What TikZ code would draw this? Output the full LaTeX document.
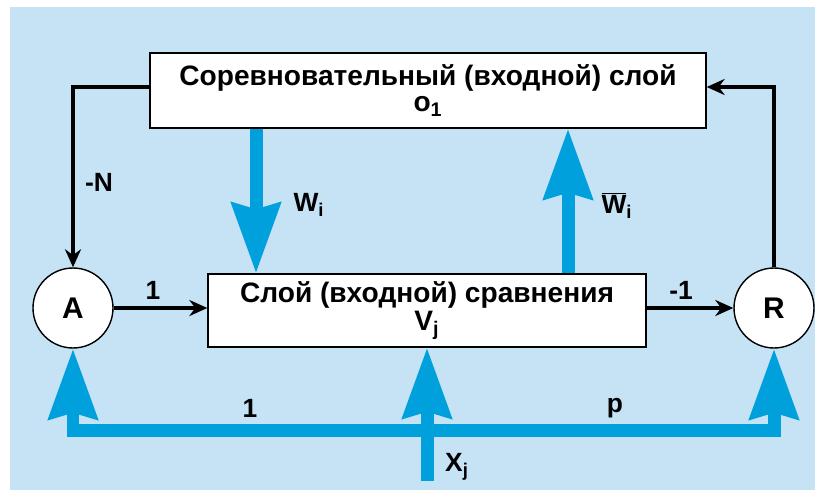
\documentclass[tikz,border=0pt]{standalone}
\usepackage{fontspec}
\setmainfont{Liberation Sans}
\usetikzlibrary{arrows.meta}

\definecolor{bgblue}{RGB}{197,227,245}
\definecolor{flowblue}{RGB}{0,160,220}

\tikzset{
  layer/.style = {draw, fill=white, line width=0.8pt, align=center, inner sep=0pt,
                  font=\bfseries\fontsize{16}{16}\selectfont},
  unit/.style  = {draw, circle, fill=white, minimum size=1.6cm, inner sep=0pt,
                  line width=0.8pt, font=\bfseries\fontsize{17}{18}\selectfont},
  wire/.style  = {-{Stealth[length=0.36cm,width=0.32cm]}, line width=0.07cm},
  flow/.style  = {-{Stealth[length=1.4cm,width=0.96cm,inset=0.12cm]}, flowblue,
                  line width=0.26cm},
  lbl/.style   = {font=\bfseries\fontsize{15}{16}\selectfont}
}

\begin{document}
\begin{tikzpicture}[x=0.02cm, y=-0.02cm]

\useasboundingbox (0,0) rectangle (815,490);
\fill[bgblue] (10,7) rectangle (815,490);

% layers and units
\node[layer, minimum width=11.12cm, minimum height=1.5cm] (comp) at (428,90.5)
  {Соревновательный (входной) слой\\[-1pt] o\textsubscript{1}};
\node[layer, minimum width=8.76cm, minimum height=1.46cm] (cmp) at (427,310.5)
  {Слой (входной) сравнения\\[0pt] V\textsubscript{j}};
\node[unit] (A) at (73,308) {A};
\node[unit] (R) at (774,308) {R};

% helper points for the wide flows
\coordinate (wx) at (256,0);
\coordinate (wbx) at (568,0);
\coordinate (xin) at (427,481);
\coordinate (bus) at (427,430);

% black connections
\draw[wire] (A.east) -- (A.east -| cmp.west);
\draw[wire] (cmp.east |- R.west) -- (R.west);
\draw[wire] (R.north) |- ([yshift=0.07cm]comp.east);
\draw[wire] ([yshift=0.07cm]comp.west) -| (A.north);

% blue flows
\draw[flow] (comp.south -| wx) -- (cmp.north -| wx);
\draw[flow] (cmp.north -| wbx) -- (comp.south -| wbx);
\draw[flow] (xin) -- (cmp.south);
\draw[flow] (bus) -| (A.south);
\draw[flow] (bus) -| (R.south);

% labels
\draw (153,290) node[lbl] (one) {1};
\draw (681,290) node[lbl] (minusone) {-1};
\draw (99,182) node[lbl] (minusN) {-N};
\draw (309,205) node[lbl] (wlbl) {W\textsubscript{i}};
\draw (617,205) node[lbl] (wblbl) {$\overline{\hbox{W}}$\textsubscript{i}};
\draw (250,408) node[lbl] (onebus) {1};
\draw (615,408) node[lbl] (pbus) {p};
\draw (457,467) node[lbl] (xlbl) {X\textsubscript{j}};

\end{tikzpicture}
\end{document}
